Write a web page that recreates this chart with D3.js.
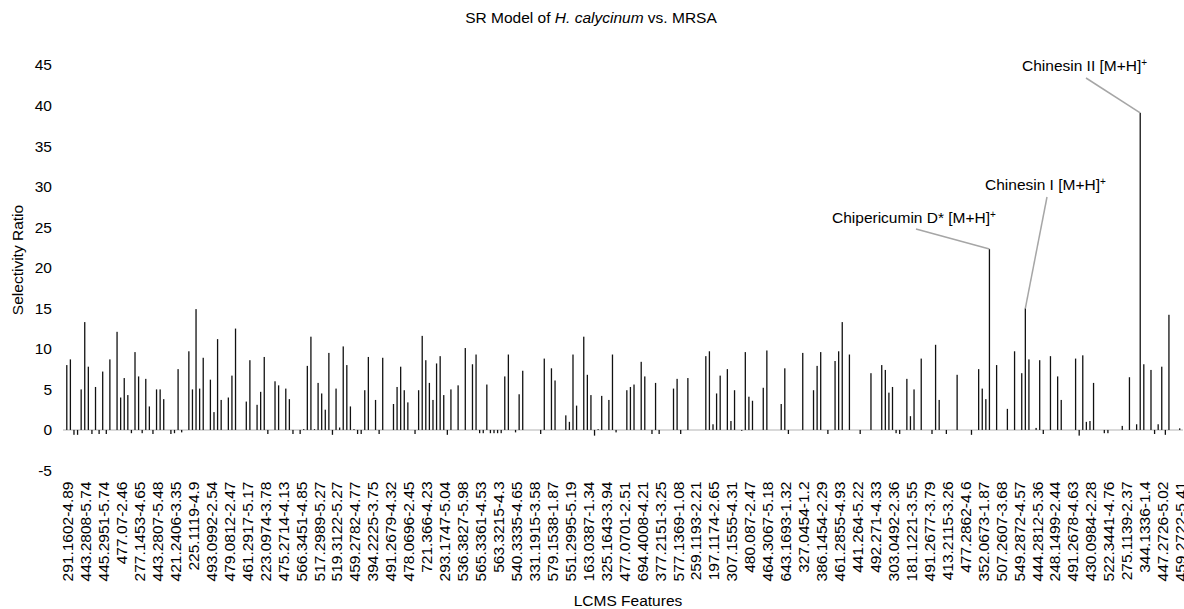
<!DOCTYPE html>
<html>
<head>
<meta charset="utf-8">
<script src="https://cdn.jsdelivr.net/npm/d3@7"></script>
<style>
  body { margin: 0; background: #fff; }
  svg { display: block; font-family: "Liberation Sans", Arial, sans-serif; }
</style>
</head>
<body>
<div id="chart"></div>
<script>
// Selectivity ratio per LCMS feature (311 features)
const ratios = [
  8.0, 8.7, -0.6, -0.6, 5.0, 13.3, 7.8, -0.5, 5.3, -0.5,
  7.2, -0.5, 8.7, 0, 12.1, 4.0, 6.4, 4.3, -0.4, 9.6,
  6.6, -0.4, 6.3, 2.9, -0.5, 5.0, 5.0, 3.8, 0, -0.5,
  -0.4, 7.5, -0.3, 0, 9.7, 5.0, 14.9, 5.1, 8.9, 0,
  6.2, 2.2, 11.2, 3.7, 0, 4.0, 6.7, 12.5, 0, 0,
  3.5, 8.6, 0, 3.1, 4.7, 9.0, -0.5, 0, 6.0, 5.5,
  0, 5.1, 3.8, -0.5, 0, -0.5, 0.1, 7.9, 11.5, 0.1,
  5.8, 4.5, 2.5, 9.5, -0.6, 5.1, 0.3, 10.3, 8.0, 2.9,
  0.1, -0.5, -0.5, 4.9, 9.0, 0, 3.7, -0.5, 8.9, 0,
  0, 3.2, 5.3, 7.8, 4.9, 3.4, 0, -0.5, 4.9, 11.6,
  8.6, 5.8, 3.7, 8.2, 9.1, 4.3, -0.6, 5.0, 0, 5.5,
  0, 10.1, 0, 8.1, 9.3, -0.4, -0.4, 5.6, -0.4, -0.4,
  -0.4, -0.4, 6.6, 9.3, 0, -0.3, 4.4, 7.3, 0, 0,
  0, 0, -0.5, 8.8, 0, 7.6, 6.1, 0, 0, 1.8,
  1.0, 9.3, 3.0, 0, 11.5, 6.8, 4.3, -0.7, 0.1, 4.2,
  0, 3.7, 9.3, -0.3, 0, 0, 4.9, 5.3, 5.6, 0,
  8.4, 6.6, 0, -0.5, 5.8, -0.5, 0, 0, 0, 5.1,
  6.3, -0.5, 0, 6.4, 0, 0, 0, 0, 9.1, 9.7,
  0.7, 4.5, 6.7, 0, 7.5, 1.1, 4.9, 0, -0.1, 9.6,
  4.1, 3.6, 0, 0, 5.2, 9.8, 0, 0, 0, 3.2,
  7.6, -0.5, 0, 0, 0, 9.5, 0, 0, 4.9, 7.9,
  9.6, 0, -0.5, 0, 8.5, 9.7, 13.3, 0, 9.3, 0,
  0, -0.5, 0, 0, 7.0, 0, 0, 8.0, 7.4, 4.6,
  5.3, -0.4, -0.5, 0, 6.3, 1.7, 5.0, 0, 8.8, 0,
  0, -0.5, 10.5, 3.7, 0, -0.5, 0, 0, 6.8, 0,
  0, 0, -0.6, 0, 7.5, 5.1, 3.8, 22.3, 0, 8.0,
  0, 0, 2.6, 0, 9.7, 0, 7.0, 15.0, 8.7, 0,
  0.25, 8.6, -0.5, 0, 9.1, 0, 6.6, 3.7, 0, 0,
  0, 8.8, -0.7, 9.2, 1.0, 1.1, 5.8, 0, 0, -0.4,
  -0.4, 0, 0, 0, 0.5, 0, 6.5, 0, 0.7, 39.1,
  8.1, 0, 7.4, -0.5, 0.7, 7.8, -0.6, 14.2, 0, 0,
  0.2
]

// Every fifth feature carries a tick label
const tickNames = [
  "291.1602-4.89", "443.2808-5.74", "445.2951-5.74", "477.07-2.46", "277.1453-4.65",
  "443.2807-5.48", "421.2406-3.35", "225.1119-4.9", "493.0992-2.54", "479.0812-2.47",
  "461.2917-5.17", "223.0974-3.78", "475.2714-4.13", "566.3451-4.85", "517.2989-5.27",
  "519.3122-5.27", "459.2782-4.77", "394.2225-3.75", "491.2679-4.32", "478.0696-2.45",
  "721.366-4.23", "293.1747-5.04", "536.3827-5.98", "565.3361-4.53", "563.3215-4.3",
  "540.3335-4.65", "331.1915-3.58", "579.1538-1.87", "551.2995-5.19", "163.0387-1.34",
  "325.1643-3.94", "477.0701-2.51", "694.4008-4.21", "377.2151-3.25", "577.1369-1.08",
  "259.1193-2.21", "197.1174-2.65", "307.1555-4.31", "480.087-2.47", "464.3067-5.18",
  "643.1693-1.32", "327.0454-1.2", "386.1454-2.29", "461.2855-4.93", "441.264-5.22",
  "492.271-4.33", "303.0492-2.36", "181.1221-3.55", "491.2677-3.79", "413.2115-3.26",
  "477.2862-4.6", "352.0673-1.87", "507.2607-3.68", "549.2872-4.57", "444.2812-5.36",
  "248.1499-2.44", "491.2678-4.63", "430.0984-2.28", "522.3441-4.76", "275.1139-2.37",
  "344.1336-1.4", "447.2726-5.02", "459.2722-5.41"
]
const tickEvery = 5

const yTicks = [-5, 0, 5, 10, 15, 20, 25, 30, 35, 40, 45]

// Annotated compounds: feature index and name
const noteIndex = [257, 267, 299]
const noteNames = ["Chipericumin D* [M+H]", "Chinesin I [M+H]", "Chinesin II [M+H]"]

const width = 1184
const height = 609
const fontSize = 15.5

const svg = d3.select("#chart").append("svg")
  .attr("width", width)
  .attr("height", height)

const x = d3.scaleBand()
  .domain(d3.range(ratios.length))
  .range([65, 1181.5])
  .paddingInner(0.64)
  .paddingOuter(0.32)

const y = d3.scaleLinear()
  .domain([-5, 45])
  .range([470.5, 65])

const cx = i => x(i) + x.bandwidth() / 2

// Title
const title = svg.append("text")
  .attr("x", 591)
  .attr("y", 23)
  .attr("text-anchor", "middle")
  .attr("font-size", fontSize)
  .attr("fill", "#000")
title.append("tspan").text("SR Model of ")
title.append("tspan").attr("font-style", "italic").text("H. calycinum")
title.append("tspan").text(" vs. MRSA")

// Y axis (labels only, plain hyphen for negatives like the source)
const yAxis = svg.append("g")
  .attr("transform", "translate(52,0)")
  .call(d3.axisLeft(y)
    .tickValues(yTicks)
    .tickSize(0)
    .tickPadding(0)
    .tickFormat(d => String(d)))
yAxis.select(".domain").remove()
yAxis.selectAll("text")
  .attr("font-size", fontSize)
  .attr("font-family", "inherit")
  .attr("fill", "#000")

svg.append("text")
  .attr("transform", "translate(23,260) rotate(-90)")
  .attr("text-anchor", "middle")
  .attr("font-size", fontSize)
  .attr("fill", "#000")
  .text("Selectivity Ratio")

// Zero line
svg.append("line")
  .attr("x1", 63)
  .attr("x2", 1183)
  .attr("y1", y(0))
  .attr("y2", y(0))
  .attr("stroke", "#d9d9d9")
  .attr("stroke-width", 2)

// Bars
svg.append("g")
  .selectAll("rect")
  .data(ratios)
  .join("rect")
  .attr("x", (d, i) => x(i))
  .attr("width", x.bandwidth())
  .attr("y", d => y(Math.max(0, d)))
  .attr("height", d => Math.abs(y(d) - y(0)))
  .attr("fill", "#111")

// X axis labels at the bottom of the plot (y = -5)
const tickIdx = tickNames.map((n, k) => k * tickEvery)
const xAxis = svg.append("g")
  .attr("transform", `translate(1,${y(-5)})`)
  .call(d3.axisBottom(x)
    .tickValues(tickIdx)
    .tickSize(0)
    .tickFormat(i => tickNames[i / tickEvery]))
xAxis.select(".domain").remove()
xAxis.selectAll("text")
  .attr("font-size", fontSize)
  .attr("font-family", "inherit")
  .attr("fill", "#000")
  .attr("text-anchor", "end")
  .attr("transform", "rotate(-90)")
  .attr("x", -11)
  .attr("y", 0)
  .attr("dy", "0.35em")

svg.append("text")
  .attr("x", 628)
  .attr("y", 606)
  .attr("text-anchor", "middle")
  .attr("font-size", fontSize)
  .attr("fill", "#000")
  .text("LCMS Features")

// Annotations: label anchor (left x, baseline y) and leader start
const noteLayout = [
  { tx: 832, ty: 223, lx: 916, ly: 229 },
  { tx: 985, ty: 190, lx: 1047, ly: 197 },
  { tx: 1022, ty: 71, lx: 1086, ly: 78 }
]

noteIndex.forEach((idx, k) => {
  const p = noteLayout[k]
  svg.append("line")
    .attr("x1", p.lx)
    .attr("y1", p.ly)
    .attr("x2", cx(idx))
    .attr("y2", y(ratios[idx]))
    .attr("stroke", "#a6a6a6")
    .attr("stroke-width", 1.5)

  const t = svg.append("text")
    .attr("x", p.tx)
    .attr("y", p.ty)
    .attr("font-size", fontSize)
    .attr("fill", "#000")
  t.append("tspan").text(noteNames[k])
  t.append("tspan")
    .attr("font-size", 10)
    .attr("dy", -5)
    .text("+")
})
</script>
</body>
</html>
